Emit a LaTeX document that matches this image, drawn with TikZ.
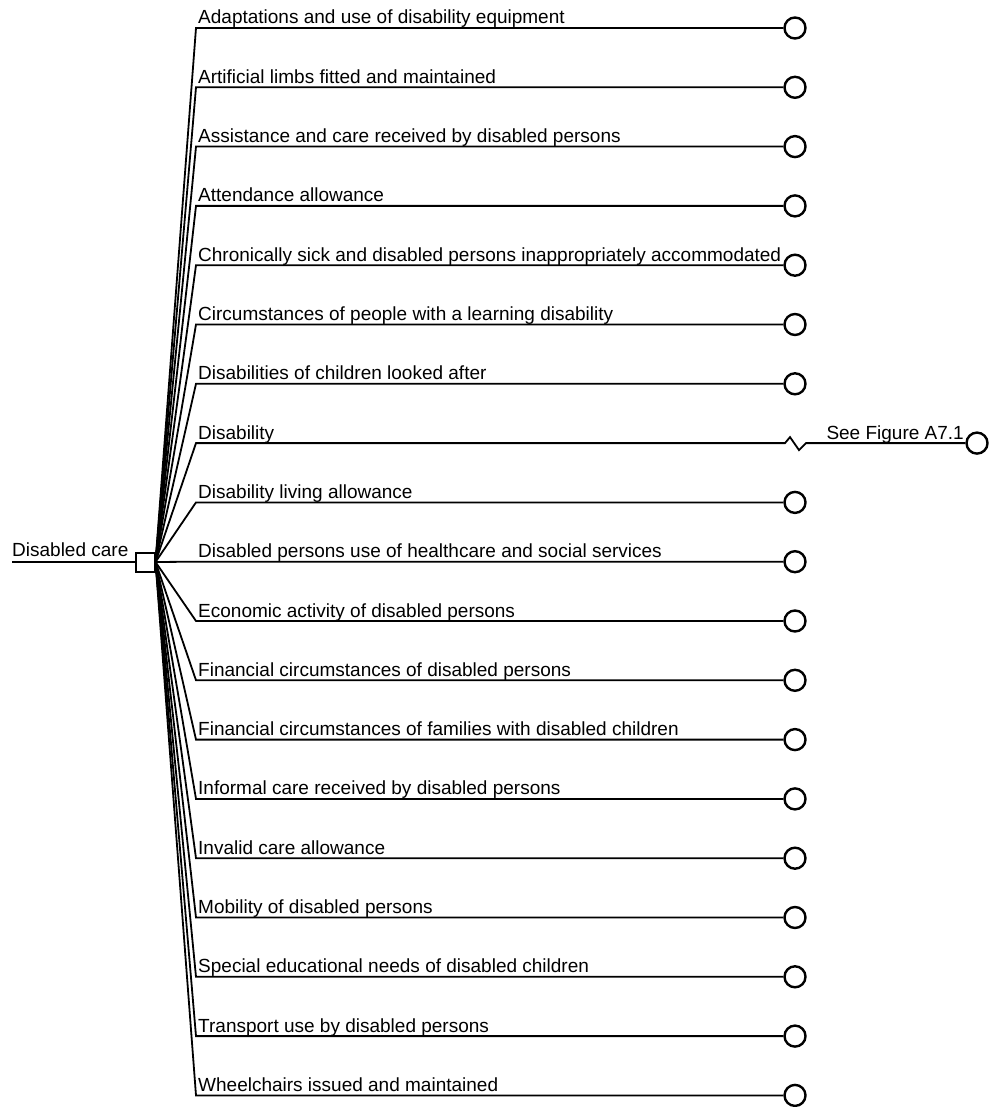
\documentclass[tikz,border=0pt]{standalone}
\usepackage{fontspec}
\setmainfont{Liberation Sans}
\begin{document}
\begin{tikzpicture}[x=1pt,y=-1pt,
  link/.style={line width=1.8pt, line join=miter},
  rootbox/.style={draw, line width=2pt, minimum width=19pt, minimum height=19pt, inner sep=0pt},
  leaf/.style={circle, draw, line width=2.4pt, minimum size=21pt, inner sep=0pt},
  lbl/.style={anchor=base west, inner sep=0pt, font=\fontsize{19}{21}\selectfont}]
\useasboundingbox (0,0) rectangle (1004,1107);
% root of the fan
\node[rootbox] (root) at (145,562) {};
\coordinate (rin) at (12,562);
\node[lbl] (rootlbl) at (12,556) {Disabled care};
\draw[link] (rin) -- (root.west);
% branches
\foreach \i/\t in {0/Adaptations and use of disability equipment,
  1/Artificial limbs fitted and maintained,
  2/Assistance and care received by disabled persons,
  3/Attendance allowance,
  4/Chronically sick and disabled persons inappropriately accommodated,
  5/Circumstances of people with a learning disability,
  6/Disabilities of children looked after,
  8/Disability living allowance,
  9/Disabled persons use of healthcare and social services,
  10/Economic activity of disabled persons,
  11/Financial circumstances of disabled persons,
  12/Financial circumstances of families with disabled children,
  13/Informal care received by disabled persons,
  14/Invalid care allowance,
  15/Mobility of disabled persons,
  16/Special educational needs of disabled children,
  17/Transport use by disabled persons,
  18/Wheelchairs issued and maintained}{
  \pgfmathsetmacro{\yy}{28+59.3*\i}
  \coordinate (c\i) at (196,\yy);
  \node[leaf] (l\i) at (795,\yy) {};
  \node[lbl] (t\i) at (198,\yy-4) {\t};
  \draw[link] (root.east) -- (c\i) -- (l\i.west);
}
% branch continued elsewhere
\pgfmathsetmacro{\yy}{28+59.3*7}
\coordinate (c7) at (196,\yy);
\coordinate (z1) at (785,\yy);
\coordinate (z2) at (790,\yy-6);
\coordinate (z3) at (799,\yy+7);
\coordinate (z4) at (806,\yy);
\node[leaf] (l7) at (977,\yy) {};
\node[lbl] (t7) at (198,\yy-4) {Disability};
\node[lbl, anchor=base east] (ref7) at (964,\yy-4) {See Figure A7.1};
\draw[link] (root.east) -- (c7) -- (z1) -- (z2) -- (z3) -- (z4) -- (l7.west);
\end{tikzpicture}
\end{document}
